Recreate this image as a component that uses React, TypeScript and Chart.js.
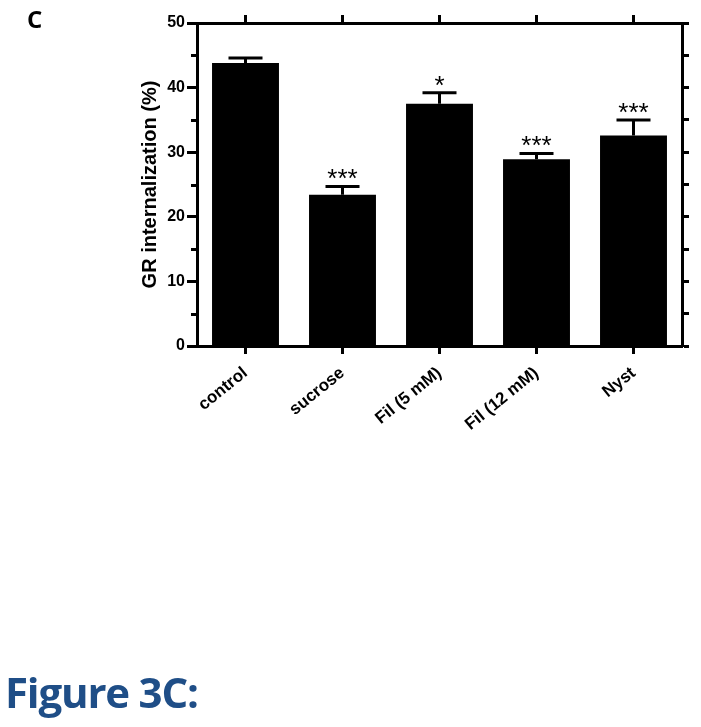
import React, { useEffect, useRef } from "react";
import { Chart, registerables } from "chart.js";

Chart.register(...registerables);

const categories = ["control", "sucrose", "Fil (5 mM)", "Fil (12 mM)", "Nyst"];
const means = [43.8, 23.4, 37.5, 28.9, 32.6];
const errors = [0.8, 1.3, 1.7, 0.9, 2.4];
const stars = ["", "***", "*", "***", "***"];
const yMin = 0;
const yMax = 50;
const yStep = 5;

const AXIS_FONT = "'Liberation Sans', Arial, sans-serif";

const errorBarPlugin = {
  id: "errorBars",
  afterDatasetsDraw(chart: any) {
    const { ctx, scales } = chart;
    const x = scales.x;
    const y = scales.y;
    ctx.save();
    ctx.strokeStyle = "#000";
    ctx.lineWidth = 3;
    ctx.lineCap = "butt";
    means.forEach((m, i) => {
      const cx = x.getPixelForValue(i);
      const top = y.getPixelForValue(m + errors[i]);
      const base = y.getPixelForValue(m);
      ctx.beginPath();
      ctx.moveTo(cx, base);
      ctx.lineTo(cx, top);
      ctx.moveTo(cx - 17, top);
      ctx.lineTo(cx + 17, top);
      ctx.stroke();
      if (stars[i]) {
        ctx.fillStyle = "#000";
        ctx.font = "26px " + AXIS_FONT;
        ctx.textAlign = "center";
        ctx.textBaseline = "alphabetic";
        ctx.fillText(stars[i], cx, top + 1);
      }
    });
    ctx.restore();
  },
  afterDraw(chart: any) {
    const { ctx, scales } = chart;
    const y = scales.y;
    ctx.save();
    ctx.strokeStyle = "#000";
    ctx.lineWidth = 3;
    for (let v = yMin; v <= yMax; v += yStep) {
      if (v % 10 === 0) continue;
      const py = Math.round(y.getPixelForValue(v)) + 0.5;
      ctx.beginPath();
      ctx.moveTo(chart.chartArea.left - 6, py);
      ctx.lineTo(chart.chartArea.left, py);
      ctx.stroke();
    }
    ctx.restore();
  },
};

function BarChart() {
  const ref = useRef<HTMLCanvasElement | null>(null);
  useEffect(() => {
    if (!ref.current) return;
    Chart.defaults.font.family = AXIS_FONT;
    Chart.defaults.color = "#000";
    const chart = new Chart(ref.current, {
      type: "bar",
      data: {
        labels: categories,
        datasets: [
          {
            data: means,
            backgroundColor: "#000",
            borderWidth: 0,
            barPercentage: 0.69,
            categoryPercentage: 1,
          },
        ],
      },
      options: {
        responsive: false,
        animation: false,
        events: [],
        layout: { padding: 0 },
        plugins: { legend: { display: false }, tooltip: { enabled: false } },
        scales: {
          x: {
            type: "category",
            position: "bottom",
            offset: true,
            grid: {
              offset: false,
              drawOnChartArea: false,
              drawTicks: true,
              tickLength: 8,
              tickWidth: 3,
              tickColor: "#000",
            },
            border: { display: true, width: 3, color: "#000" },
            ticks: {
              minRotation: 39,
              maxRotation: 39,
              autoSkip: false,
              padding: 9,
              color: "#000",
              font: { size: 17, weight: "bold", family: AXIS_FONT },
            },
            afterFit: (s: any) => {
              s.height = 727 - 346;
            },
          },
          x2: {
            type: "category",
            position: "top",
            labels: categories,
            offset: true,
            grid: {
              offset: false,
              drawOnChartArea: false,
              tickLength: 8,
              tickWidth: 3,
              tickColor: "#000",
            },
            border: { display: true, width: 3, color: "#000" },
            ticks: { display: false },
            afterFit: (s: any) => {
              s.height = 23;
            },
          },
          y: {
            type: "linear",
            position: "left",
            min: yMin,
            max: yMax,
            grid: {
              drawOnChartArea: false,
              tickLength: 10,
              tickWidth: 3,
              tickColor: (c: any) =>
                c.tick && c.tick.value % 10 === 0 ? "#000" : "rgba(0,0,0,0)",
            },
            border: { display: true, width: 3, color: "#000" },
            ticks: {
              stepSize: yStep,
              padding: 2,
              color: "#000",
              font: { size: 16, weight: "bold", family: AXIS_FONT },
              callback: (v: any) => (Number(v) % 10 === 0 ? String(v) : ""),
            },
            title: {
              display: true,
              text: "GR internalization (%)",
              color: "#000",
              font: { size: 20, weight: "bold", family: AXIS_FONT },
              padding: { top: 138, bottom: 0 },
            },
            afterFit: (s: any) => {
              s.width = 197;
            },
          },
          y2: {
            type: "linear",
            position: "right",
            min: yMin,
            max: yMax,
            grid: {
              drawOnChartArea: false,
              tickLength: 7,
              tickWidth: 3,
              tickColor: "#000",
            },
            border: { display: true, width: 3, color: "#000" },
            ticks: { stepSize: yStep, display: false },
            afterFit: (s: any) => {
              s.width = 701 - 682;
            },
          },
        },
      },
      plugins: [errorBarPlugin],
    } as any);
    return () => chart.destroy();
  }, []);
  return (
    <canvas
      ref={ref}
      width={701}
      height={727}
      style={{ position: "fixed", left: 0, top: 0, width: 701, height: 727 }}
    />
  );
}

export default function App() {
  return (
    <div style={{ position: "fixed", left: 0, top: 0, width: 701, height: 727 }}>
      <BarChart />
      <div
        style={{
          position: "fixed",
          left: 27,
          top: 7,
          fontFamily: "'Open Sans', sans-serif",
          fontWeight: 700,
          fontSize: 24,
          lineHeight: "24px",
          color: "#000",
        }}
      >
        C
      </div>
      <div
        style={{
          position: "fixed",
          left: 5,
          top: 671,
          fontFamily: "'Open Sans', sans-serif",
          fontWeight: 700,
          fontSize: 42,
          lineHeight: "42px",
          letterSpacing: "-1.2px",
          color: "#1f4e87",
          whiteSpace: "nowrap",
        }}
      >
        Figure 3C:
      </div>
    </div>
  );
}
